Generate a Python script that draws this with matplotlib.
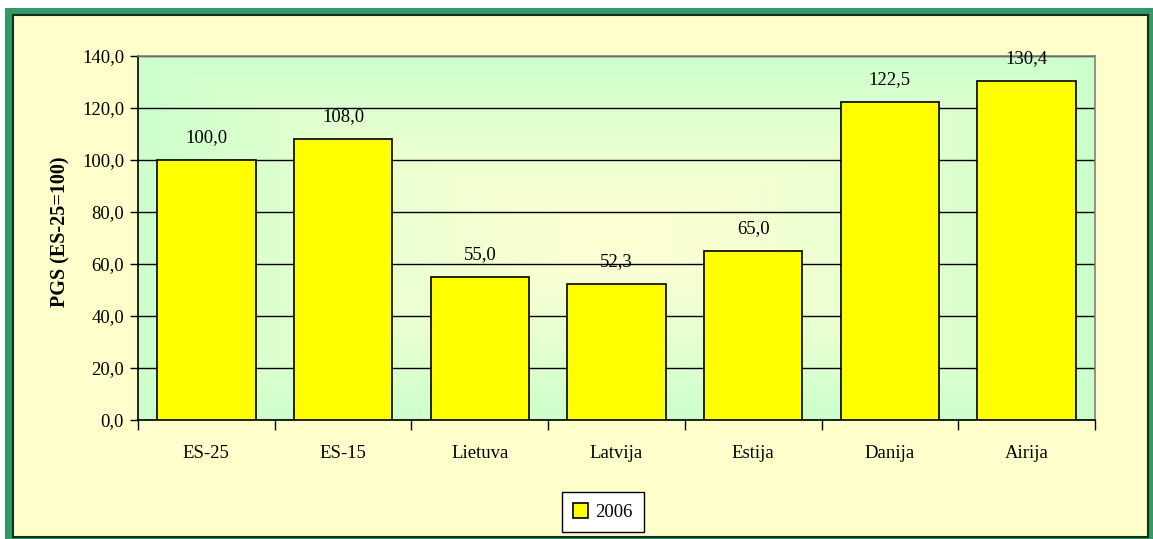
import numpy as np
import matplotlib
matplotlib.use("Agg")
import matplotlib.pyplot as plt
from matplotlib.patches import Rectangle
from matplotlib.ticker import FuncFormatter, FixedLocator

categories = ["ES-25", "ES-15", "Lietuva", "Latvija", "Estija", "Danija", "Airija"]
values = [100.0, 108.0, 55.0, 52.3, 65.0, 122.5, 130.4]
series_name = "2006"
ylabel = "PGS (ES-25=100)"

W, H = 1153, 539
plt.rcParams['font.family'] = ['Liberation Serif', 'DejaVu Serif']
fig = plt.figure(figsize=(W / 100, H / 100), dpi=100)
fig.patch.set_facecolor("white")

def fx(x):
    return x / W

def fy(y):
    return 1 - y / H

FS = 13.5

# background axes for the outer frame
bg = fig.add_axes([0, 0, 1, 1], zorder=-5)
bg.set_xlim(0, W)
bg.set_ylim(H, 0)
bg.axis("off")
bg.add_patch(Rectangle((5, 8), W - 5, H - 8, facecolor="#339966", edgecolor="none"))
bg.add_patch(Rectangle((12.5, 14.5), 1135, 522, facecolor="#FFFFCC", edgecolor="#1a2a1a",
                       linewidth=1.5))

ax = fig.add_axes([fx(138), fy(420), fx(1095) - fx(138), fy(56) - fy(420)], zorder=1)
ax.set_facecolor("none")

# rectangular "from center" gradient background
nx, ny = 500, 250
xx, yy = np.meshgrid(np.linspace(-1, 1, nx), np.linspace(-1, 1, ny))
r = np.clip(np.maximum(np.abs(xx), np.abs(yy)), 0, 1) ** 1.2
c0 = np.array([255, 255, 212]) / 255.0
c1 = np.array([204, 255, 204]) / 255.0
img = c0[None, None, :] * (1 - r[..., None]) + c1[None, None, :] * r[..., None]
ax.imshow(img, extent=[0, 1, 0, 1], transform=ax.transAxes, aspect="auto", zorder=0)

x = np.arange(len(categories))
bars = ax.bar(x, values, width=0.72, color="#FFFF00", edgecolor="black", linewidth=1.2,
              zorder=3, label=series_name)

ax.set_xlim(-0.5, len(categories) - 0.5)
ax.set_ylim(0, 140)
ax.set_yticks(np.arange(0, 141, 20))
ax.yaxis.set_major_formatter(FuncFormatter(lambda v, p: f"{v:.1f}".replace(".", ",")))
ax.grid(axis="y", color="black", linewidth=1.0, zorder=1)
ax.set_axisbelow(True)

ax.set_xticks(x)
ax.set_xticklabels(categories)
ax.xaxis.set_minor_locator(FixedLocator(np.arange(-0.5, len(categories), 1.0)))
ax.tick_params(axis="x", which="major", length=0, pad=18, labelsize=FS)
ax.tick_params(axis="x", which="minor", length=7, width=1, color="black", direction="out")
ax.tick_params(axis="y", length=6, width=1, direction="out", pad=4, labelsize=FS)

for s in ["top", "right"]:
    ax.spines[s].set_color("#808080")
    ax.spines[s].set_linewidth(1.2)
for s in ["left", "bottom"]:
    ax.spines[s].set_color("black")
    ax.spines[s].set_linewidth(1.2)

for xi, v in zip(x, values):
    ax.annotate(f"{v:.1f}".replace(".", ","), (xi, v), xytext=(0, 10), textcoords="offset points",
                ha="center", va="bottom", fontsize=FS, zorder=5, annotation_clip=False)

fig.text(fx(60), fy(232), ylabel, rotation=90, ha="center", va="center",
         fontsize=14.5, fontweight="bold")

leg = fig.legend(handles=[bars], labels=[series_name], loc="center",
                 bbox_to_anchor=(fx(603), fy(512)), fontsize=FS, frameon=True,
                 fancybox=False, edgecolor="black", framealpha=1, facecolor="white",
                 handlelength=0.8, handleheight=0.8, handletextpad=0.4, borderpad=0.6)
leg.get_frame().set_linewidth(1.0)

fig.savefig("out.png", dpi=100)
